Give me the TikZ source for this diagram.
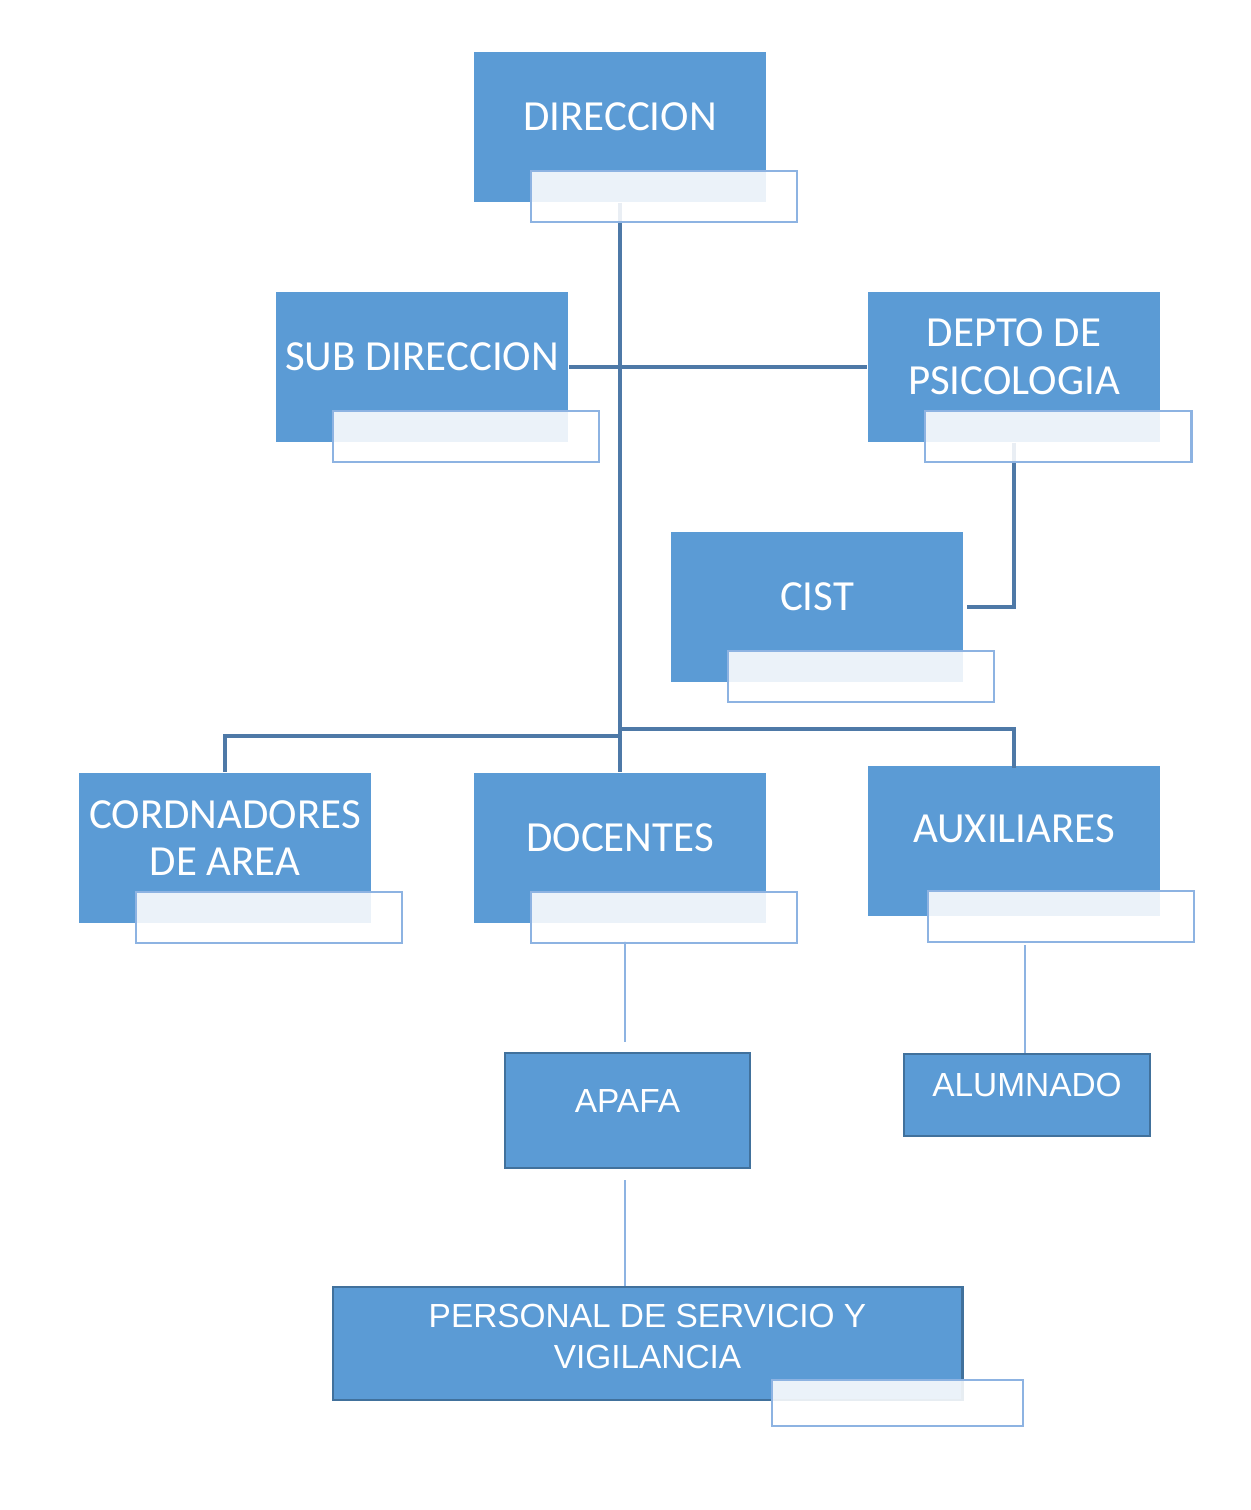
\documentclass[tikz,border=0pt]{standalone}
\usepackage{fontspec}
\usetikzlibrary{calc}
\newfontfamily\calib{Carlito}
\newfontfamily\arialsans{Liberation Sans}
\definecolor{accent}{HTML}{5B9BD5}
\definecolor{linkblue}{HTML}{4E79A7}
\definecolor{tabline}{HTML}{8DB3E2}
\definecolor{darkedge}{HTML}{41719C}
\tikzset{
  unit/.style={fill=accent, minimum width=2.92cm, minimum height=1.5cm, inner sep=0pt},
  lowunit/.style={fill=accent, draw=darkedge, line width=0.75pt, inner sep=0pt},
  tab/.style={draw=tabline, fill=white, fill opacity=0.88, line width=0.6pt,
    minimum width=2.66cm, minimum height=0.51cm, inner sep=0pt, anchor=north west},
  lbl/.style={text=white, align=center, font=\calib\fontsize{12.2}{13.6}\selectfont},
  lowlbl/.style={text=white, align=center, font=\arialsans\fontsize{9.5}{11.9}\selectfont},
  link/.style={draw=linkblue, line width=1.3pt},
  thinlink/.style={draw=tabline, line width=0.6pt}
}
\begin{document}
\begin{tikzpicture}[x=0.01cm, y=-0.01cm]
\useasboundingbox (0,0) rectangle (1250,1510);

% boxes
\node[unit] (dir)  at (620,127)  {};
\node[unit] (sub)  at (422,367)  {};
\node[unit] (psi)  at (1014,367) {};
\node[unit] (cist) at (817,607)  {};
\node[unit] (cord) at (225,848)  {};
\node[unit] (doc)  at (620,848)  {};
\node[unit] (aux)  at (1014,841) {};
\node[lowunit, minimum width=2.45cm, minimum height=1.15cm] (apafa) at (627.5,1110.5) {};
\node[lowunit, minimum width=2.46cm, minimum height=0.82cm] (alum)  at (1027,1095)   {};
\node[lowunit, minimum width=6.29cm, minimum height=1.13cm] (pers)  at (647.5,1343.5) {};

% texts
\node[lbl] (dirl)  at ([yshift=1mm]dir.center)  {DIRECCION};
\node[lbl] (subl)  at ([yshift=1mm]sub.center)  {SUB DIRECCION};
\node[lbl] (psil)  at ([yshift=1mm]psi.center)  {DEPTO DE\\PSICOLOGIA};
\node[lbl] (cistl) at ([yshift=1mm]cist.center) {CIST};
\node[lbl] (cordl) at ([yshift=1mm]cord.center) {CORDNADORES\\DE AREA};
\node[lbl] (docl)  at ([yshift=1mm]doc.center)  {DOCENTES};
\node[lbl] (auxl)  at ([yshift=1.2mm]aux.center)  {AUXILIARES};
\node[lowlbl] (apafal) at ([yshift=0.95mm]apafa.center) {APAFA};
\node[lowlbl] (aluml)  at ([yshift=1mm]alum.center)  {ALUMNADO};
\node[lowlbl] (persl)  at ([yshift=0.7mm]pers.center) {PERSONAL DE SERVICIO Y\\VIGILANCIA};

% connectors
\coordinate (jl) at (620,736);
\coordinate (jr) at (620,729);
\draw[link] (dir.south) -- (doc.north);
\draw[link] (sub.east) -- (psi.west);
\draw[link] (psi.south) |- ([xshift=0.3mm]cist.east);
\draw[link] (jl) -| (cord.north);
\draw[link] (jr) -| ([yshift=-0.3mm]aux.north);
\draw[thinlink, shorten >=1mm] (625,941) -- (apafa.north -| 625,0);
\draw[thinlink, shorten <=1.1mm] (apafa.south -| 625,0) -- (pers.north -| 625,0);
\draw[thinlink] (1025,945) -- (alum.north -| 1025,0);

% tabs
\foreach \b in {dir,sub,psi,cist,cord,doc}
  \node[tab] (\b tab) at ($(\b.south west)+(57,-33)$) {};
\node[tab] (auxtab) at (927,890) {};
\node[tab, minimum width=2.51cm, minimum height=0.46cm] (perstab) at (771,1379) {};
\end{tikzpicture}
\end{document}
